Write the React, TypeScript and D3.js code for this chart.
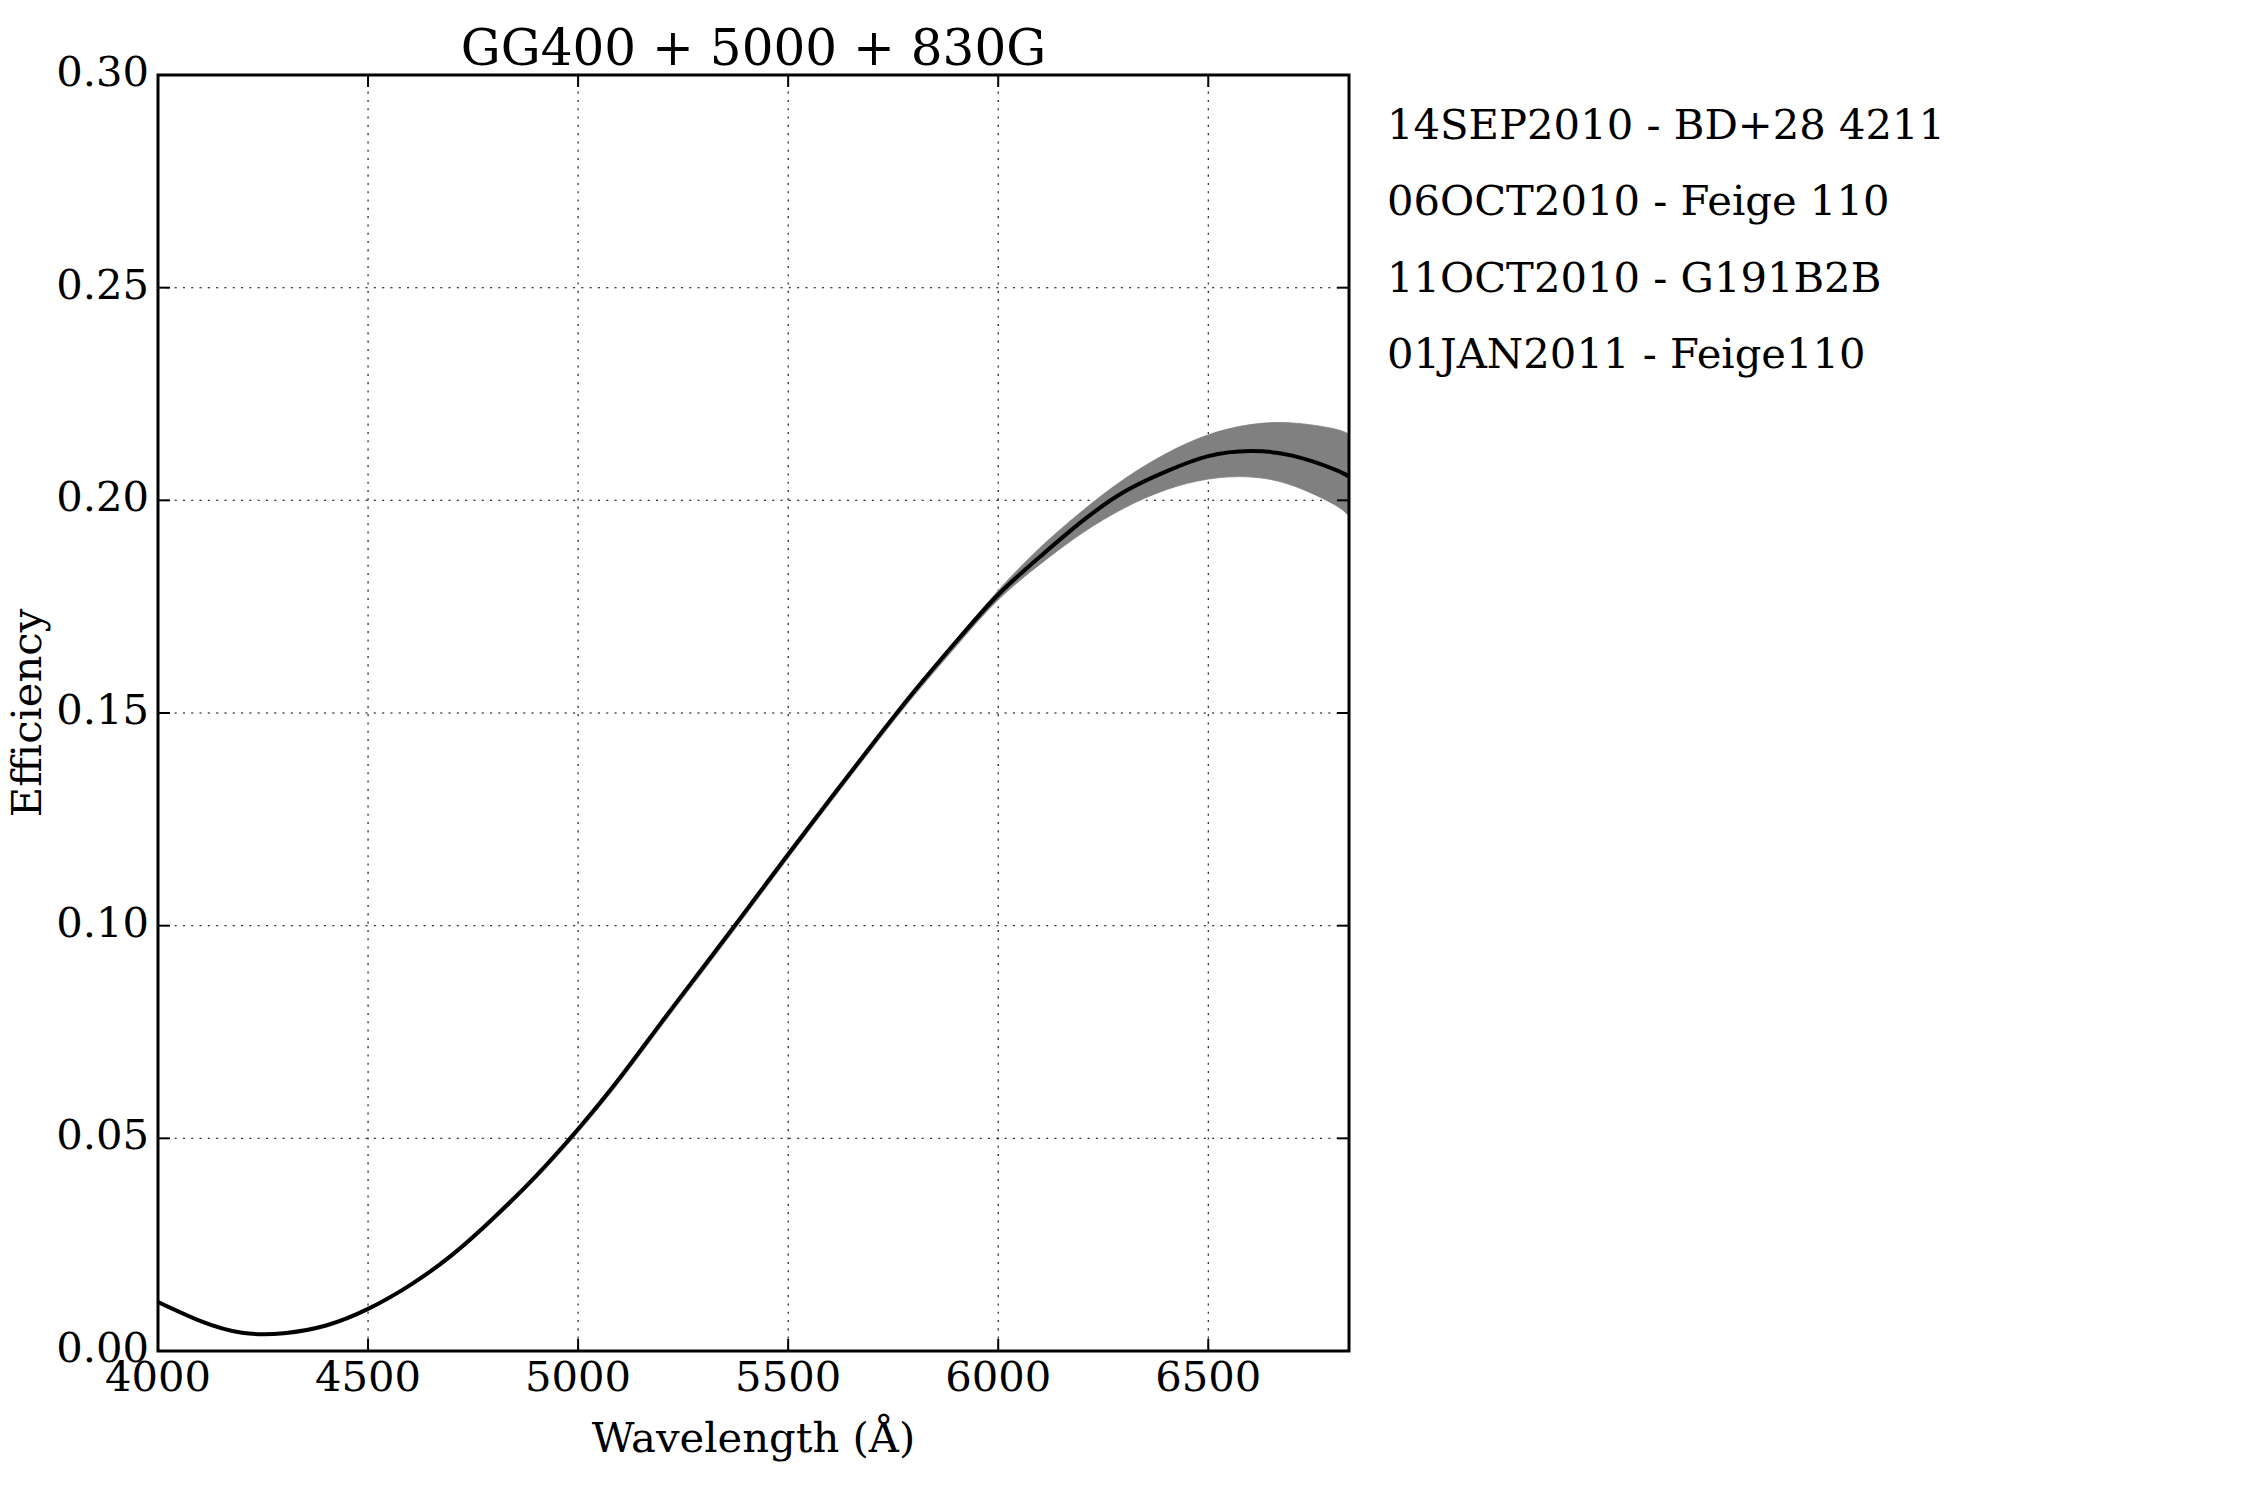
import { useMemo } from 'react';
import { scaleLinear, line, area, curveNatural, range } from 'd3';

const wavelengths = [
  4000, 4100, 4200, 4300, 4400, 4500, 4600, 4700, 4800, 4900,
  5000, 5100, 5200, 5300, 5400, 5500, 5600, 5700, 5800, 5900,
  6000, 6100, 6200, 6300, 6400, 6500, 6600, 6700, 6800, 6835,
];
const meanEff = [
  0.0115, 0.0071, 0.0043, 0.0042, 0.006, 0.0099, 0.0155, 0.0226, 0.0314, 0.0412,
  0.0522, 0.0643, 0.0775, 0.0905, 0.1036, 0.1168, 0.1298, 0.1426, 0.1551, 0.1668,
  0.1778, 0.1868, 0.1951, 0.202, 0.2068, 0.2104, 0.2116, 0.2105, 0.2073, 0.2056,
];
const lowEff = [
  0.0112, 0.0069, 0.0041, 0.004, 0.0058, 0.0096, 0.0151, 0.0221, 0.0308, 0.0405,
  0.0514, 0.0635, 0.0766, 0.0896, 0.1027, 0.1159, 0.1289, 0.1417, 0.1541, 0.1657,
  0.1766, 0.185, 0.1923, 0.1982, 0.2025, 0.205, 0.2055, 0.2035, 0.199, 0.1962,
];
const highEff = [
  0.0116, 0.0072, 0.0044, 0.0043, 0.0061, 0.01, 0.0156, 0.0227, 0.0315, 0.0413,
  0.0523, 0.0645, 0.0777, 0.0907, 0.1038, 0.117, 0.13, 0.1429, 0.1554, 0.1673,
  0.1788, 0.1889, 0.1975, 0.205, 0.211, 0.2154, 0.2178, 0.2182, 0.2168, 0.2155,
];

const xTicks = [4000, 4500, 5000, 5500, 6000, 6500];
const yTicks = [0, 0.05, 0.1, 0.15, 0.2, 0.25, 0.3];

const title = 'GG400 + 5000 + 830G';
const runs = [
  '14SEP2010 - BD+28 4211',
  '06OCT2010 - Feige 110',
  '11OCT2010 - G191B2B',
  '01JAN2011 - Feige110',
];

const W = 2250;
const H = 1500;
const left = 158;
const right = 1349;
const top = 75;
const bottom = 1351;
const font = '"DejaVu Serif", serif';
const fs = 41.7;

const App = () => {
  const x = useMemo(() => scaleLinear().domain([4000, 6835]).range([left, right]), []);
  const y = useMemo(() => scaleLinear().domain([0, 0.3]).range([bottom, top]), []);

  const idx = range(wavelengths.length);
  const linePath = line<number>()
    .x((i) => x(wavelengths[i]))
    .y((i) => y(meanEff[i]))
    .curve(curveNatural)(idx);
  const bandPath = area<number>()
    .x((i) => x(wavelengths[i]))
    .y0((i) => y(lowEff[i]))
    .y1((i) => y(highEff[i]))
    .curve(curveNatural)(idx);

  const grid = { stroke: '#000', strokeWidth: 1.05, strokeDasharray: '2.1 6.2' };
  const tick = { stroke: '#000', strokeWidth: 2 };
  const tl = 12;

  return (
    <svg
      width={W}
      height={H}
      style={{ position: 'absolute', left: 0, top: 0, background: '#fff' }}
      fontFamily={font}
    >
      <rect width={W} height={H} fill="#fff" />
      <defs>
        <clipPath id="plot">
          <rect x={left} y={top} width={right - left} height={bottom - top} />
        </clipPath>
      </defs>

      {/* grid */}
      {xTicks.map((t) => (
        <line key={'gx' + t} x1={x(t)} x2={x(t)} y1={top} y2={bottom} {...grid} />
      ))}
      {yTicks.map((t) => (
        <line key={'gy' + t} x1={left} x2={right} y1={y(t)} y2={y(t)} {...grid} />
      ))}

      <g clipPath="url(#plot)">
        <path d={bandPath ?? ''} fill="#808080" stroke="#808080" strokeWidth={0.8} />
        <path d={linePath ?? ''} fill="none" stroke="#000" strokeWidth={4} />
      </g>

      {/* ticks, inward on all four sides */}
      {xTicks.map((t) => (
        <g key={'tx' + t}>
          <line x1={x(t)} x2={x(t)} y1={bottom} y2={bottom - tl} {...tick} />
          <line x1={x(t)} x2={x(t)} y1={top} y2={top + tl} {...tick} />
          <text x={x(t)} y={1391} fontSize={fs} textAnchor="middle">
            {t}
          </text>
        </g>
      ))}
      {yTicks.map((t) => (
        <g key={'ty' + t}>
          <line x1={left} x2={left + tl} y1={y(t)} y2={y(t)} {...tick} />
          <line x1={right} x2={right - tl} y1={y(t)} y2={y(t)} {...tick} />
          <text x={149} y={y(t) + 11} fontSize={fs} textAnchor="end">
            {t.toFixed(2)}
          </text>
        </g>
      ))}

      <rect
        x={left}
        y={top}
        width={right - left}
        height={bottom - top}
        fill="none"
        stroke="#000"
        strokeWidth={3}
      />

      <text x={(left + right) / 2} y={65} fontSize={50} textAnchor="middle">
        {title}
      </text>
      <text x={(left + right) / 2} y={1452} fontSize={fs} textAnchor="middle">
        Wavelength (Å)
      </text>
      <text
        transform={`translate(41,${(top + bottom) / 2}) rotate(-90)`}
        fontSize={fs}
        textAnchor="middle"
      >
        Efficiency
      </text>

      {runs.map((r, i) => (
        <text key={r} x={1387} y={139 + i * 76.3} fontSize={fs}>
          {r}
        </text>
      ))}
    </svg>
  );
};

export default App;
